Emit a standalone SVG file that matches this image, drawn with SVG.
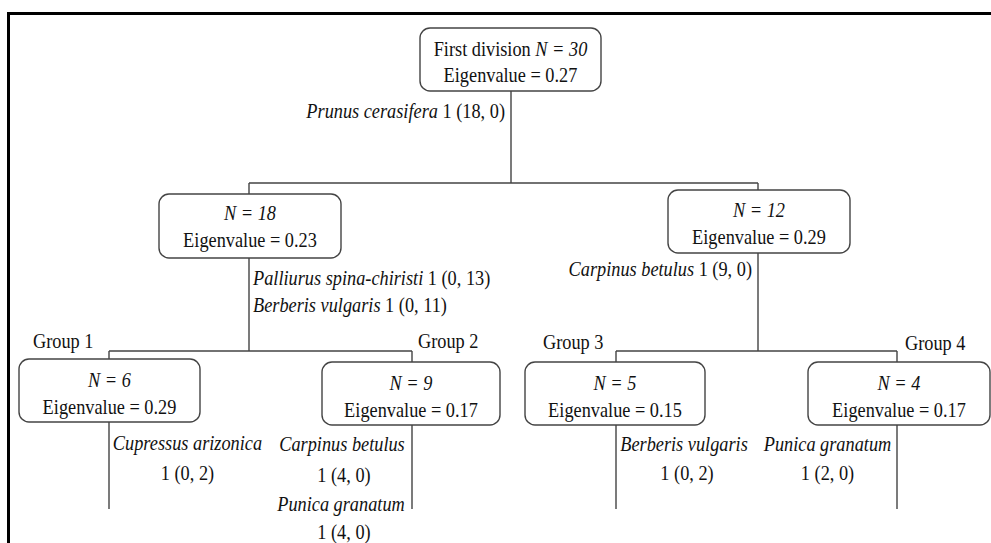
<svg xmlns="http://www.w3.org/2000/svg" width="991" height="543" viewBox="0 0 991 543">
<style>
text{font-family:"Liberation Serif","Times New Roman",serif;font-size:18.3px;fill:#111;transform-box:fill-box;transform-origin:center;transform:scaleY(1.2)}
.m{text-anchor:middle}
.e{text-anchor:end}
.i{font-style:italic}
.box{fill:#fff;stroke:#444;stroke-width:1.4}
#connectors path{fill:none;stroke:#444;stroke-width:1.4}
</style>
<rect width="991" height="543" fill="#fff"/>
<g id="frame">
<path d="M7,13.5H991M8.5,12V543" stroke="#000" stroke-width="3" fill="none"/>
</g>
<g id="connectors">
<path d="M511,91V183M249,183H758M249,183V194M758,183V190"/>
<path d="M249,258V351M109,351H412M109,351V359M412,351V362"/>
<path d="M758,253V351M616,351H897M616,351V362M897,351V362"/>
<path d="M109,422V509M412,425V509M616,425V509M897,425V509"/>
</g>
<g id="node-root">
<rect class="box" x="420" y="28" width="181" height="63" rx="10"/>
<text class="m" x="510.5" y="54.5">First division <tspan class="i">N = 30</tspan></text>
<text class="m" x="510.5" y="81">Eigenvalue = 0.27</text>
</g>
<g id="node-n18">
<rect class="box" x="159" y="194" width="182" height="64" rx="10"/>
<text class="m i" x="250" y="219">N = 18</text>
<text class="m" x="250" y="246">Eigenvalue = 0.23</text>
</g>
<g id="node-n12">
<rect class="box" x="668" y="190" width="182" height="63" rx="10"/>
<text class="m i" x="759" y="216">N = 12</text>
<text class="m" x="759" y="243">Eigenvalue = 0.29</text>
</g>
<g id="node-g1">
<rect class="box" x="19" y="359" width="181" height="63" rx="10"/>
<text class="m i" x="109.5" y="386">N = 6</text>
<text class="m" x="109.5" y="413">Eigenvalue = 0.29</text>
</g>
<g id="node-g2">
<rect class="box" x="322" y="362" width="178" height="63" rx="10"/>
<text class="m i" x="411" y="389">N = 9</text>
<text class="m" x="411" y="416">Eigenvalue = 0.17</text>
</g>
<g id="node-g3">
<rect class="box" x="525" y="362" width="180" height="63" rx="10"/>
<text class="m i" x="615" y="389">N = 5</text>
<text class="m" x="615" y="416">Eigenvalue = 0.15</text>
</g>
<g id="node-g4">
<rect class="box" x="808" y="362" width="182" height="63" rx="10"/>
<text class="m i" x="899" y="389">N = 4</text>
<text class="m" x="899" y="416">Eigenvalue = 0.17</text>
</g>
<g id="labels">
<text class="e" x="505" y="117"><tspan class="i">Prunus cerasifera</tspan> 1 (18, 0)</text>
<text x="253" y="284"><tspan class="i">Palliurus spina-chiristi</tspan> 1 (0, 13)</text>
<text x="253" y="311"><tspan class="i">Berberis vulgaris</tspan> 1 (0, 11)</text>
<text class="e" x="752" y="275"><tspan class="i">Carpinus betulus</tspan> 1 (9, 0)</text>
<text x="33" y="347">Group 1</text>
<text x="418" y="347">Group 2</text>
<text x="543" y="348">Group 3</text>
<text x="905" y="349">Group 4</text>
<text class="m i" x="187.5" y="449">Cupressus arizonica</text>
<text class="m" x="187.5" y="479">1 (0, 2)</text>
<text class="m i" x="342" y="450">Carpinus betulus</text>
<text class="m" x="344" y="481">1 (4, 0)</text>
<text class="m i" x="341" y="510">Punica granatum</text>
<text class="m" x="344" y="538">1 (4, 0)</text>
<text class="m i" x="684" y="450">Berberis vulgaris</text>
<text class="m" x="687" y="479">1 (0, 2)</text>
<text class="m i" x="827.5" y="450">Punica granatum</text>
<text class="m" x="827.5" y="479">1 (2, 0)</text>
</g>
</svg>
